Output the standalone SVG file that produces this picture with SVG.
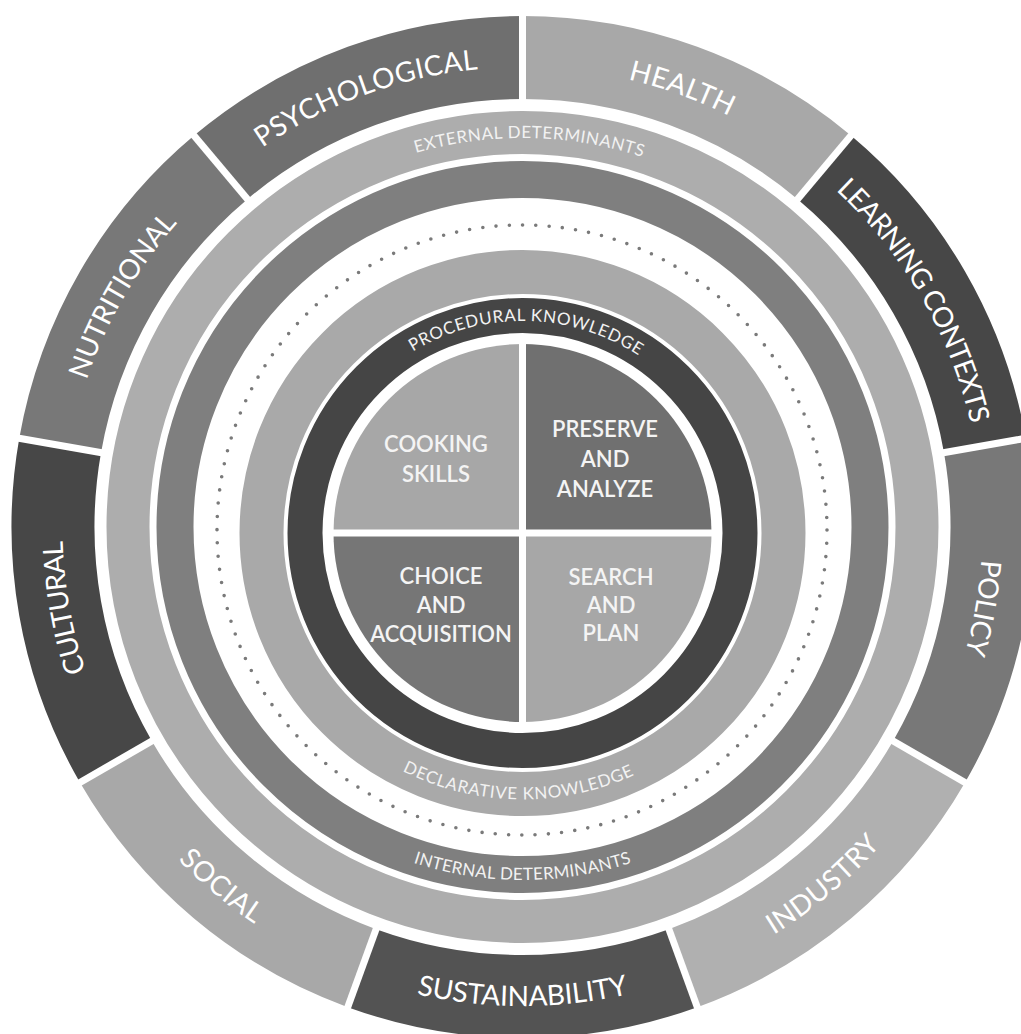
<svg xmlns="http://www.w3.org/2000/svg" width="1021" height="1034" viewBox="0 0 1021 1034">
  <style>
    .dark { fill: #474747; }
    .darker { fill: #535353; }
    .mid { fill: #6f6f6f; }
    .mid2 { fill: #787878; }
    .light { fill: #a8a8a8; }
    .light2 { fill: #b0b0b0; }
    .lbl { font-family: Lato, "Liberation Sans", sans-serif; fill: #ffffff; }
    .outer-lbl { font-size: 28px; }
    .ring-lbl { font-size: 17px; fill: #f2f2f2; }
    .core-lbl { font-size: 22px; font-weight: 600; fill: #f4f4f4; text-anchor: middle; }
    .divider { stroke: #ffffff; stroke-width: 7; }
  </style>
  <defs>
    <!-- clockwise arcs: text runs left to right over the top, letters face outward -->
    <path id="p-psychological" d="M69.49,447.12 A460,460 0 0 1 818.18,174.62"/>
    <path id="p-health" d="M226.82,174.62 A460,460 0 0 1 975.51,447.12"/>
    <path id="p-learning" d="M522.5,67 A460,460 0 0 1 920.87,757"/>
    <path id="p-policy" d="M818.18,174.62 A460,460 0 0 1 679.83,959.26"/>
    <path id="p-cultural" d="M365.17,959.26 A460,460 0 0 1 226.82,174.62"/>
    <path id="p-nutritional" d="M124.13,757 A460,460 0 0 1 522.5,67"/>
    <!-- counter-clockwise arcs: text runs left to right under the bottom, letters face inward -->
    <path id="p-sustainability" d="M107.67,766.5 A479,479 0 0 0 937.33,766.5"/>
    <path id="p-industry" d="M358.67,977.11 A479,479 0 0 0 994.22,443.82"/>
    <path id="p-social" d="M50.78,443.82 A479,479 0 0 0 686.33,977.11"/>
    <!-- ring captions -->
    <path id="p-external" d="M189.06,326.65 A389,389 0 0 1 862.73,338.41"/>
    <path id="p-internal" d="M216.79,703.5 A353,353 0 0 0 828.21,703.5"/>
    <path id="p-procedural" d="M340.78,423.81 A212,212 0 0 1 707.92,430.22"/>
    <path id="p-declarative" d="M289.41,662.2 A266.5,266.5 0 0 0 750.93,670.26"/>
  </defs>

  <rect width="1021" height="1034" fill="#ffffff"/>

  <!-- outer ring of determinant segments -->
  <g id="outer-segments">
    <g id="seg-psychological">
      <path class="mid" d="M194.04,135.55 A511,511 0 0 1 522.5,16 L522.5,99 A428,428 0 0 0 247.39,199.13 Z"/>
      <text class="lbl outer-lbl"><textPath href="#p-psychological" startOffset="50%" text-anchor="middle" textLength="232" lengthAdjust="spacing">PSYCHOLOGICAL</textPath></text>
    </g>
    <g id="seg-health">
      <path class="light" d="M522.5,16 A511,511 0 0 1 850.96,135.55 L797.61,199.13 A428,428 0 0 0 522.5,99 Z"/>
      <text class="lbl outer-lbl"><textPath href="#p-health" startOffset="50%" text-anchor="middle" textLength="108" lengthAdjust="spacing">HEALTH</textPath></text>
    </g>
    <g id="seg-learning-contexts">
      <path class="dark" d="M850.96,135.55 A511,511 0 0 1 1025.74,438.27 L944,452.68 A428,428 0 0 0 797.61,199.13 Z"/>
      <text class="lbl outer-lbl"><textPath href="#p-learning" startOffset="50%" text-anchor="middle" textLength="274" lengthAdjust="spacing">LEARNING CONTEXTS</textPath></text>
    </g>
    <g id="seg-policy">
      <path class="mid2" d="M1025.74,438.27 A511,511 0 0 1 965.04,782.5 L893.16,741 A428,428 0 0 0 944,452.68 Z"/>
      <text class="lbl outer-lbl"><textPath href="#p-policy" startOffset="50%" text-anchor="middle" textLength="95" lengthAdjust="spacing">POLICY</textPath></text>
    </g>
    <g id="seg-industry">
      <path class="light2" d="M965.04,782.5 A511,511 0 0 1 697.27,1007.18 L668.88,929.19 A428,428 0 0 0 893.16,741 Z"/>
      <text class="lbl outer-lbl"><textPath href="#p-industry" startOffset="50%" text-anchor="middle" textLength="140" lengthAdjust="spacing">INDUSTRY</textPath></text>
    </g>
    <g id="seg-sustainability">
      <path class="darker" d="M697.27,1007.18 A511,511 0 0 1 347.73,1007.18 L376.12,929.19 A428,428 0 0 0 668.88,929.19 Z"/>
      <text class="lbl outer-lbl"><textPath href="#p-sustainability" startOffset="50%" text-anchor="middle" textLength="214" lengthAdjust="spacing">SUSTAINABILITY</textPath></text>
    </g>
    <g id="seg-social">
      <path class="light" d="M347.73,1007.18 A511,511 0 0 1 79.96,782.5 L151.84,741 A428,428 0 0 0 376.12,929.19 Z"/>
      <text class="lbl outer-lbl"><textPath href="#p-social" startOffset="50%" text-anchor="middle" textLength="100" lengthAdjust="spacing">SOCIAL</textPath></text>
    </g>
    <g id="seg-cultural">
      <path class="dark" d="M79.96,782.5 A511,511 0 0 1 19.26,438.27 L101,452.68 A428,428 0 0 0 151.84,741 Z"/>
      <text class="lbl outer-lbl"><textPath href="#p-cultural" startOffset="50%" text-anchor="middle" textLength="133" lengthAdjust="spacing">CULTURAL</textPath></text>
    </g>
    <g id="seg-nutritional">
      <path class="mid2" d="M19.26,438.27 A511,511 0 0 1 194.04,135.55 L247.39,199.13 A428,428 0 0 0 101,452.68 Z"/>
      <text class="lbl outer-lbl"><textPath href="#p-nutritional" startOffset="50%" text-anchor="middle" textLength="183" lengthAdjust="spacing">NUTRITIONAL</textPath></text>
    </g>
  </g>

  <!-- white gaps between the outer segments -->
  <g id="dividers" class="divider">
    <line x1="522.5" y1="107" x2="522.5" y2="7"/>
    <line x1="252.53" y1="205.26" x2="188.25" y2="128.66"/>
    <line x1="792.47" y1="205.26" x2="856.75" y2="128.66"/>
    <line x1="936.12" y1="454.07" x2="1034.6" y2="436.7"/>
    <line x1="886.23" y1="737" x2="972.83" y2="787"/>
    <line x1="666.15" y1="921.67" x2="700.35" y2="1015.64"/>
    <line x1="378.85" y1="921.67" x2="344.65" y2="1015.64"/>
    <line x1="158.77" y1="737" x2="72.17" y2="787"/>
    <line x1="108.88" y1="454.07" x2="10.4" y2="436.7"/>
  </g>

  <!-- external determinants ring -->
  <g id="ring-external">
    <circle cx="522.5" cy="527" r="394.5" fill="none" stroke="#adadad" stroke-width="43"/>
    <text class="lbl ring-lbl"><textPath href="#p-external" startOffset="50%" text-anchor="middle" textLength="230" lengthAdjust="spacing">EXTERNAL DETERMINANTS</textPath></text>
  </g>

  <!-- internal determinants ring -->
  <g id="ring-internal">
    <circle cx="522.5" cy="527" r="347.5" fill="none" stroke="#7f7f7f" stroke-width="37"/>
    <text class="lbl ring-lbl"><textPath href="#p-internal" startOffset="50%" text-anchor="middle" textLength="222" lengthAdjust="spacing">INTERNAL DETERMINANTS</textPath></text>
  </g>

  <!-- dotted boundary -->
  <g id="ring-dotted">
    <circle cx="522" cy="530" r="305" fill="none" stroke="#7a7a7a" stroke-width="3.6" stroke-linecap="round" stroke-dasharray="0 13.308"/>
  </g>

  <!-- declarative knowledge ring -->
  <g id="ring-declarative">
    <circle cx="522.5" cy="533" r="261" fill="none" stroke="#a9a9a9" stroke-width="44"/>
    <text class="lbl ring-lbl"><textPath href="#p-declarative" startOffset="50%" text-anchor="middle" textLength="240" lengthAdjust="spacing">DECLARATIVE KNOWLEDGE</textPath></text>
  </g>

  <!-- procedural knowledge ring -->
  <g id="ring-procedural">
    <circle cx="522.5" cy="533" r="217.5" fill="none" stroke="#454545" stroke-width="35"/>
    <text class="lbl ring-lbl"><textPath href="#p-procedural" startOffset="50%" text-anchor="middle" textLength="238" lengthAdjust="spacing">PROCEDURAL KNOWLEDGE</textPath></text>
  </g>

  <!-- core quadrants -->
  <g id="core">
    <g id="q-cooking">
      <path fill="#a7a7a7" d="M522.5,533 L333.5,533 A189,189 0 0 1 522.5,344 Z"/>
      <text class="lbl core-lbl" x="436" y="452">COOKING</text>
      <text class="lbl core-lbl" x="436" y="482">SKILLS</text>
    </g>
    <g id="q-preserve">
      <path fill="#707070" d="M522.5,533 L522.5,344 A189,189 0 0 1 711.5,533 Z"/>
      <text class="lbl core-lbl" x="605" y="437">PRESERVE</text>
      <text class="lbl core-lbl" x="605" y="467">AND</text>
      <text class="lbl core-lbl" x="605" y="497">ANALYZE</text>
    </g>
    <g id="q-search">
      <path fill="#a7a7a7" d="M522.5,533 L711.5,533 A189,189 0 0 1 522.5,722 Z"/>
      <text class="lbl core-lbl" x="611" y="585">SEARCH</text>
      <text class="lbl core-lbl" x="611" y="613">AND</text>
      <text class="lbl core-lbl" x="611" y="641">PLAN</text>
    </g>
    <g id="q-choice">
      <path fill="#767676" d="M522.5,533 L522.5,722 A189,189 0 0 1 333.5,533 Z"/>
      <text class="lbl core-lbl" x="441" y="584">CHOICE</text>
      <text class="lbl core-lbl" x="441" y="613">AND</text>
      <text class="lbl core-lbl" x="441" y="642">ACQUISITION</text>
    </g>
    <g id="core-cross" class="divider">
      <line x1="330" y1="533" x2="715" y2="533"/>
      <line x1="522.5" y1="340" x2="522.5" y2="726"/>
    </g>
  </g>
</svg>
